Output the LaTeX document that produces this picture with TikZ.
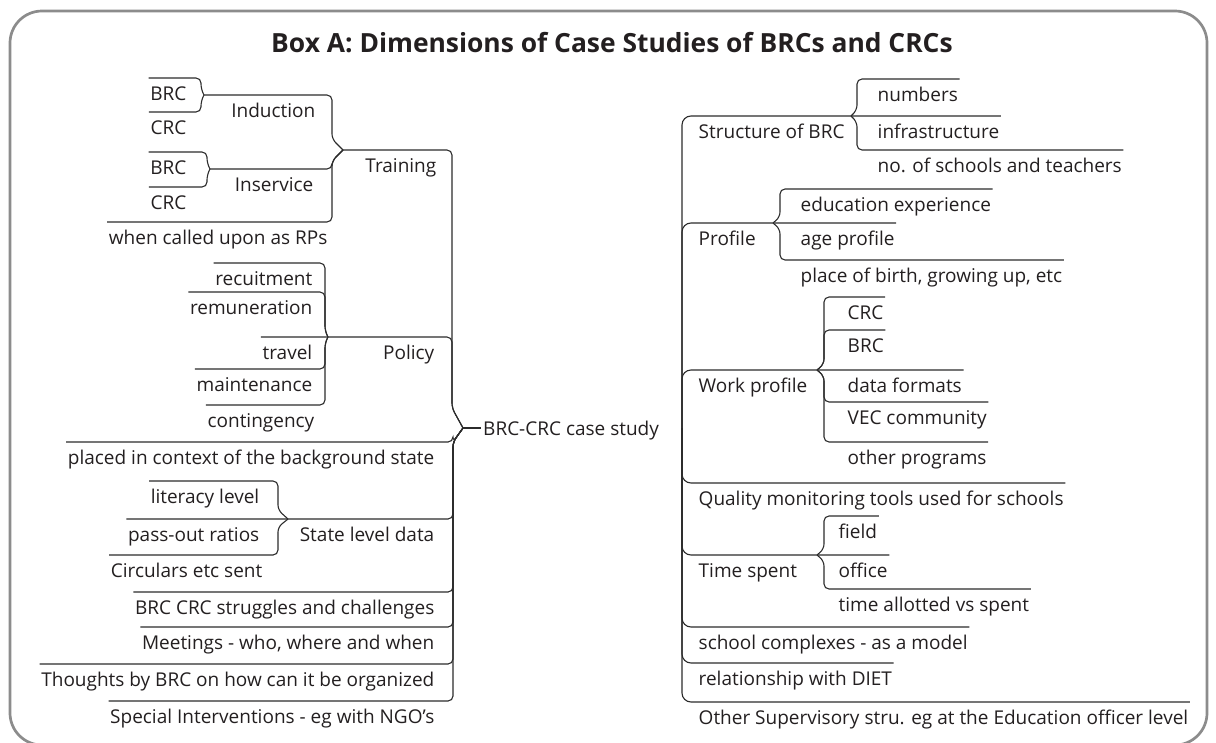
\documentclass[tikz,border=0pt]{standalone}
\usepackage{fontspec}
\setmainfont{Open Sans}
\definecolor{txtc}{HTML}{231F20}
\definecolor{lnc}{HTML}{2B2B2B}
\definecolor{brd}{HTML}{8C8C8C}
\begin{document}
\begin{tikzpicture}[x=1pt,y=-1pt,
  lt/.style={font=\fontsize{19}{23}\selectfont, text=txtc, inner xsep=1.5pt, inner ysep=8pt, text height=14pt, text depth=4pt},
  ll/.style={lt, anchor=north east},
  rl/.style={lt, anchor=north west},
  cn/.style={draw=lnc, line width=1.1pt, rounded corners=5pt},
  sp/.style={cn, rounded corners=9pt}]
\useasboundingbox (0,0) rectangle (1216,742);
\begin{scope}
\clip (0,0) rectangle (1216,742);
\draw[draw=brd, line width=2.7pt, rounded corners=32pt] (10,11) rectangle (1207,745);
\end{scope}
\node[font=\bfseries\fontsize{26.4}{31}\selectfont, text=txtc] (title) at (612,43) {Box A: Dimensions of Case Studies of BRCs and CRCs};

% ---------- tips ----------
\coordinate (tRoot) at (463,428);
\coordinate (tR) at (682,428);
\coordinate (tTr) at (343,150);
\coordinate (tInd) at (204,95);
\coordinate (tIns) at (210,169);
\coordinate (tPol) at (328,337);
\coordinate (tState) at (288,519);
\coordinate (tStruct) at (851,116);
\coordinate (tProf) at (773,223);
\coordinate (tWork) at (817,370);
\coordinate (tTime) at (817,555);

% ---------- root ----------
\node[font=\fontsize{19}{23}\selectfont, text=txtc, inner sep=0pt, inner xsep=2pt, text height=14pt, text depth=0pt, anchor=west] (root) at (481,428) {BRC-CRC case study};

% ---------- left nodes ----------
\node[ll] (brcA) at (188,78) {BRC};
\node[ll] (crcA) at (188,112) {CRC};
\node[ll] (induction) at (317,95) {Induction};
\node[ll] (brcB) at (188,152) {BRC};
\node[ll] (crcB) at (188,187) {CRC};
\node[ll] (inservice) at (315,169) {Inservice};
\node[ll] (called) at (329,222) {when called upon as RPs};
\node[ll] (training) at (438,150) {Training};
\node[ll] (recuit) at (314,263) {recuitment};
\node[ll] (remun) at (314,292) {remuneration};
\node[ll] (travel) at (314,337) {travel};
\node[ll] (maint) at (314,369) {maintenance};
\node[ll] (conting) at (316,405) {contingency};
\node[ll] (policy) at (436,337) {Policy};
\node[ll] (placed) at (436,442) {placed in context of the background state};
\node[ll] (literacy) at (261,481) {literacy level};
\node[ll] (passout) at (261,519) {pass-out ratios};
\node[ll] (circ) at (264,555) {Circulars etc sent};
\node[ll] (state) at (436,519) {State level data};
\node[ll] (strug) at (436,592) {BRC CRC struggles and challenges};
\node[ll] (meet) at (436,627) {Meetings - who, where and when};
\node[ll] (thoughts) at (436,664) {Thoughts by BRC on how can it be organized};
\node[ll] (special) at (436,701) {Special Interventions - eg with NGO’s};

% ---------- right nodes ----------
\node[rl] (struct) at (697,116) {Structure of BRC};
\node[rl] (numbers) at (876,79) {numbers};
\node[rl] (infra) at (876,116) {infrastructure};
\node[rl] (schools) at (876,150) {no. of schools and teachers};
\node[rl] (profile) at (697,223) {Profile};
\node[rl] (edu) at (799,189) {education experience};
\node[rl] (age) at (799,223) {age profile};
\node[rl] (birth) at (799,260) {place of birth, growing up, etc};
\node[rl] (work) at (697,370) {Work profile};
\node[rl] (crcC) at (846,297) {CRC};
\node[rl] (brcC) at (846,330) {BRC};
\node[rl] (formats) at (846,370) {data formats};
\node[rl] (vec) at (846,402) {VEC community};
\node[rl] (other) at (846,442) {other programs};
\node[rl] (quality) at (697,483) {Quality monitoring tools used for schools};
\node[rl] (time) at (697,555) {Time spent};
\node[rl] (field) at (837,516) {field};
\node[rl] (office) at (837,555) {office};
\node[rl] (allot) at (837,589) {time allotted vs spent};
\node[rl] (complex) at (697,627) {school complexes - as a model};
\node[rl] (diet) at (697,663) {relationship with DIET};
\node[rl] (superv) at (697,702) {Other Supervisory stru. eg at the Education officer level};

% ---------- left connectors ----------
\draw[cn] (tRoot) -- (root.west);
\draw[cn] (tRoot) -- ++(-11,-20) |- (tTr);
\draw[cn] (tRoot) -- ++(-11,-20) |- (tPol) -- (travel.north west);
\draw[cn] (tRoot) -- ++(-10,14) |- (placed.north west);
\draw[cn] (tRoot) -- ++(-10,14) |- (tState) -- (passout.north west);
\draw[cn] (tRoot) -- ++(-10,14) |- (strug.north west);
\draw[cn] (tRoot) -- ++(-10,14) |- (meet.north west);
\draw[cn] (tRoot) -- ++(-10,14) |- (thoughts.north west);
\draw[cn] (tRoot) -- ++(-10,14) |- (special.north west);

\draw[cn] (tTr) -- ++(-11,-11) |- (tInd);
\draw[cn] (tTr) -- ++(-11,11) |- (tIns);
\draw[cn] (tTr) -- ++(-11,11) |- (called.north west);

\draw[cn] (tInd) -- ++(-3,-6) |- (brcA.north west);
\draw[cn] (tInd) -- ++(-3,6) |- (crcA.north west);
\draw[cn] (tIns) -- ++(-3,-6) |- (brcB.north west);
\draw[cn] (tIns) -- ++(-3,6) |- (crcB.north west);

\draw[cn] (tPol) -- ++(-3,-6) |- (recuit.north west);
\draw[cn] (tPol) -- ++(-3,-6) |- (remun.north west);
\draw[cn] (tPol) -- ++(-3,6) |- (maint.north west);
\draw[cn] (tPol) -- ++(-3,6) |- (conting.north west);

\draw[cn] (tState) -- ++(-10,-9) |- (literacy.north west);
\draw[cn] (tState) -- ++(-10,8) |- (circ.north west);

% ---------- right connectors ----------
\draw[sp] (tR) |- (tStruct) -- (infra.north east);
\draw[sp] (tR) |- (tProf) -- (age.north east);
\draw[sp] (tR) |- (tWork) -- (formats.north east);
\draw[sp] (tR) |- (quality.north east);
\draw[sp] (tR) |- (tTime) -- (office.north east);
\draw[sp] (tR) |- (complex.north east);
\draw[sp] (tR) |- (diet.north east);
\draw[sp] (tR) |- (superv.north east);

\draw[cn] (tStruct) -- ++(6,-6) |- (numbers.north east);
\draw[cn] (tStruct) -- ++(6,6) |- (schools.north east);

\draw[cn] (tProf) -- ++(7,-6) |- (edu.north east);
\draw[cn] (tProf) -- ++(7,6) |- (birth.north east);

\draw[cn] (tWork) -- ++(7,-6) |- (crcC.north east);
\draw[cn] (tWork) -- ++(7,-6) |- (brcC.north east);
\draw[cn] (tWork) -- ++(7,6) |- (vec.north east);
\draw[cn] (tWork) -- ++(7,6) |- (other.north east);

\draw[cn] (tTime) -- ++(7,-6) |- (field.north east);
\draw[cn] (tTime) -- ++(7,6) |- (allot.north east);
\end{tikzpicture}
\end{document}
